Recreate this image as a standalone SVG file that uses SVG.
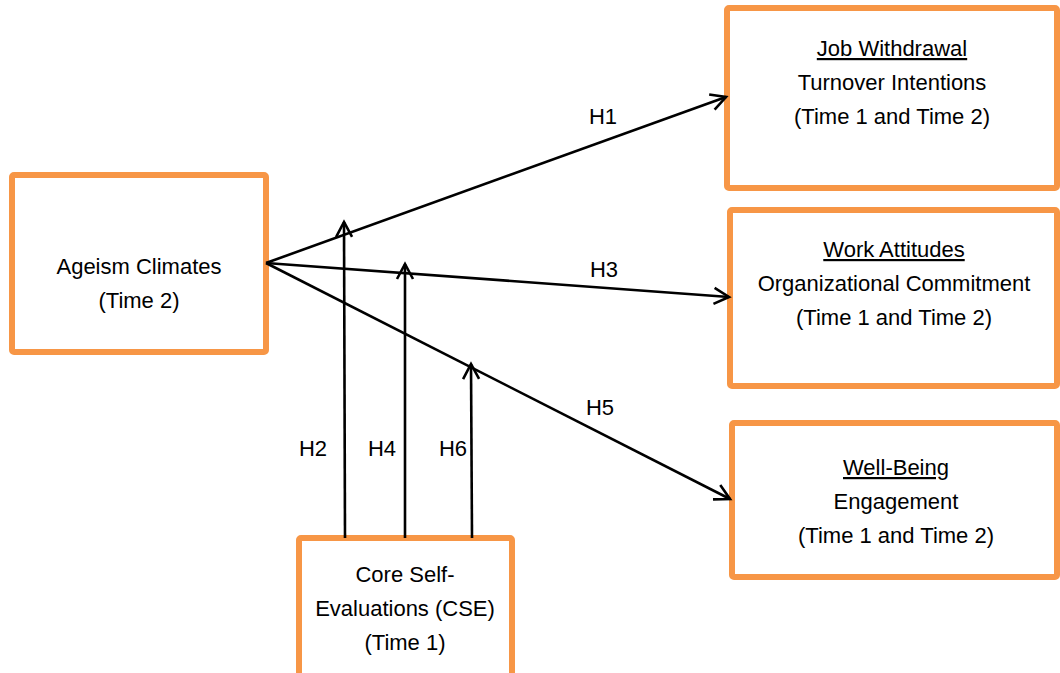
<svg xmlns="http://www.w3.org/2000/svg" width="1060" height="673" viewBox="0 0 1060 673">
<style>
.box{fill:#fff;stroke:#F79646;stroke-width:6}
.t{font-family:"Liberation Sans",Arial,sans-serif;font-size:22px;fill:#000;text-anchor:middle}
.u{text-decoration:underline}
.c{stroke:#000;stroke-width:2.6;fill:none;marker-end:url(#ah)}
</style>
<defs>
<marker id="ah" markerUnits="userSpaceOnUse" markerWidth="22" markerHeight="22" viewBox="0 0 22 22" refX="18" refY="11" orient="auto">
<path d="M3,3 L18,11 L3,19" fill="none" stroke="#000" stroke-width="2.6"/>
</marker>
</defs>
<rect width="1060" height="673" fill="#fff"/>
<g id="ageism">
<rect class="box" x="12" y="175" width="254" height="177" rx="2"/>
<text class="t" x="139" y="274">Ageism Climates</text>
<text class="t" x="139" y="308">(Time 2)</text>
</g>
<g id="job">
<rect class="box" x="727" y="8" width="330" height="180" rx="2"/>
<text class="t u" x="892" y="56">Job Withdrawal</text>
<text class="t" x="892" y="90">Turnover Intentions</text>
<text class="t" x="892" y="124">(Time 1 and Time 2)</text>
</g>
<g id="work">
<rect class="box" x="730" y="210" width="327" height="176" rx="2"/>
<text class="t u" x="894" y="257">Work Attitudes</text>
<text class="t" x="894" y="291">Organizational Commitment</text>
<text class="t" x="894" y="325">(Time 1 and Time 2)</text>
</g>
<g id="wellbeing">
<rect class="box" x="732" y="423" width="325" height="154" rx="2"/>
<text class="t u" x="896" y="475">Well-Being</text>
<text class="t" x="896" y="509">Engagement</text>
<text class="t" x="896" y="543">(Time 1 and Time 2)</text>
</g>
<g id="cse">
<rect class="box" x="299" y="538" width="213" height="145" rx="2"/>
<text class="t" x="405" y="582">Core Self-</text>
<text class="t" x="405" y="616">Evaluations (CSE)</text>
<text class="t" x="405" y="650">(Time 1)</text>
</g>
<g id="connectors">
<line class="c" x1="266" y1="263" x2="726" y2="97"/>
<line class="c" x1="266" y1="263" x2="729" y2="297"/>
<line class="c" x1="266" y1="263" x2="730" y2="499"/>
<line class="c" x1="345" y1="538" x2="344" y2="222"/>
<line class="c" x1="405" y1="538" x2="405" y2="264"/>
<line class="c" x1="472" y1="538" x2="471" y2="364"/>
<text class="t" x="603" y="124">H1</text>
<text class="t" x="604" y="277">H3</text>
<text class="t" x="600" y="415">H5</text>
<text class="t" x="313" y="456">H2</text>
<text class="t" x="382" y="456">H4</text>
<text class="t" x="453" y="456">H6</text>
</g>
</svg>
